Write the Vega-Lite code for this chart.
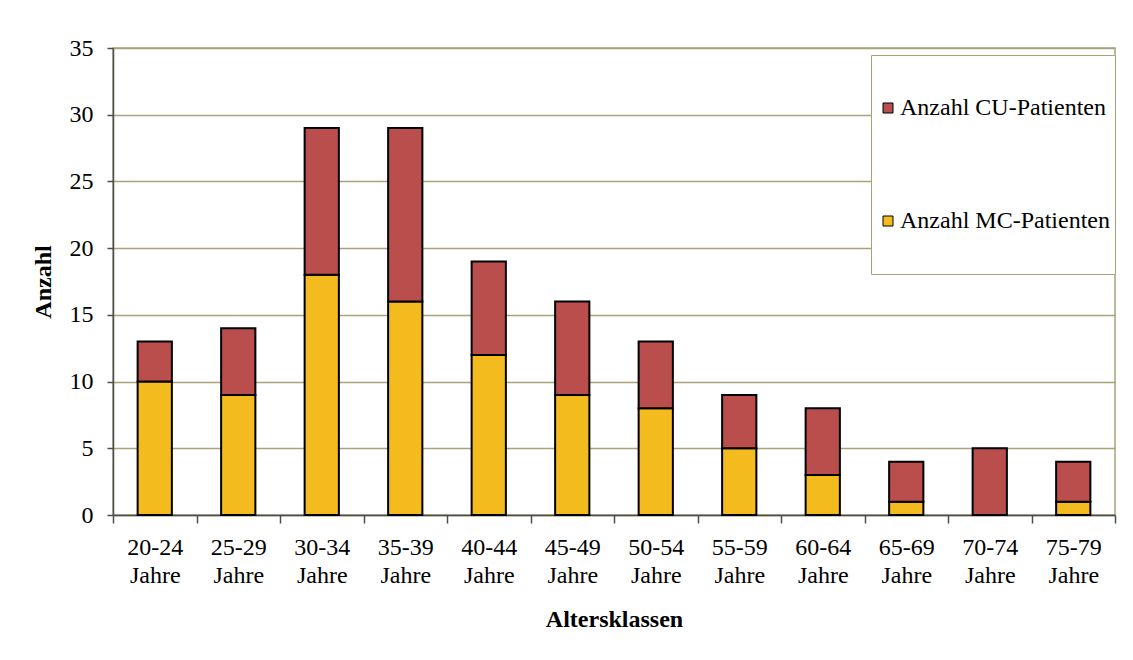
{
  "$schema": "https://vega.github.io/schema/vega-lite/v6.json",
  "width": 1002,
  "height": 467,
  "autosize": "none",
  "padding": {"left": 113, "top": 48, "right": 18, "bottom": 145},
  "background": "white",
  "data": {
    "values": [
      {"gruppe": "20-24 Jahre", "serie": "Anzahl MC-Patienten", "anzahl": 10},
      {"gruppe": "20-24 Jahre", "serie": "Anzahl CU-Patienten", "anzahl": 3},
      {"gruppe": "25-29 Jahre", "serie": "Anzahl MC-Patienten", "anzahl": 9},
      {"gruppe": "25-29 Jahre", "serie": "Anzahl CU-Patienten", "anzahl": 5},
      {"gruppe": "30-34 Jahre", "serie": "Anzahl MC-Patienten", "anzahl": 18},
      {"gruppe": "30-34 Jahre", "serie": "Anzahl CU-Patienten", "anzahl": 11},
      {"gruppe": "35-39 Jahre", "serie": "Anzahl MC-Patienten", "anzahl": 16},
      {"gruppe": "35-39 Jahre", "serie": "Anzahl CU-Patienten", "anzahl": 13},
      {"gruppe": "40-44 Jahre", "serie": "Anzahl MC-Patienten", "anzahl": 12},
      {"gruppe": "40-44 Jahre", "serie": "Anzahl CU-Patienten", "anzahl": 7},
      {"gruppe": "45-49 Jahre", "serie": "Anzahl MC-Patienten", "anzahl": 9},
      {"gruppe": "45-49 Jahre", "serie": "Anzahl CU-Patienten", "anzahl": 7},
      {"gruppe": "50-54 Jahre", "serie": "Anzahl MC-Patienten", "anzahl": 8},
      {"gruppe": "50-54 Jahre", "serie": "Anzahl CU-Patienten", "anzahl": 5},
      {"gruppe": "55-59 Jahre", "serie": "Anzahl MC-Patienten", "anzahl": 5},
      {"gruppe": "55-59 Jahre", "serie": "Anzahl CU-Patienten", "anzahl": 4},
      {"gruppe": "60-64 Jahre", "serie": "Anzahl MC-Patienten", "anzahl": 3},
      {"gruppe": "60-64 Jahre", "serie": "Anzahl CU-Patienten", "anzahl": 5},
      {"gruppe": "65-69 Jahre", "serie": "Anzahl MC-Patienten", "anzahl": 1},
      {"gruppe": "65-69 Jahre", "serie": "Anzahl CU-Patienten", "anzahl": 3},
      {"gruppe": "70-74 Jahre", "serie": "Anzahl MC-Patienten", "anzahl": 0},
      {"gruppe": "70-74 Jahre", "serie": "Anzahl CU-Patienten", "anzahl": 5},
      {"gruppe": "75-79 Jahre", "serie": "Anzahl MC-Patienten", "anzahl": 1},
      {"gruppe": "75-79 Jahre", "serie": "Anzahl CU-Patienten", "anzahl": 3}
    ]
  },
  "mark": {"type": "bar", "stroke": "black", "strokeWidth": 2, "width": {"band": 0.41}},
  "encoding": {
    "x": {
      "field": "gruppe",
      "type": "nominal",
      "sort": null,
      "scale": {"paddingInner": 0, "paddingOuter": 0},
      "axis": {
        "title": "Altersklassen",
        "labelAngle": 0,
        "labelExpr": "split(datum.label, ' ')",
        "labelLineHeight": 28,
        "labelPadding": 12,
        "tickBand": "extent",
        "tickSize": 8,
        "grid": false,
        "titlePadding": 20
      }
    },
    "y": {
      "field": "anzahl",
      "type": "quantitative",
      "stack": "zero",
      "scale": {"domain": [0, 35], "nice": false},
      "axis": {
        "title": "Anzahl",
        "values": [0, 5, 10, 15, 20, 25, 30, 35],
        "tickSize": 6,
        "labelPadding": 14,
        "titlePadding": 14,
        "grid": true
      }
    },
    "color": {
      "field": "serie",
      "type": "nominal",
      "scale": {
        "domain": ["Anzahl CU-Patienten", "Anzahl MC-Patienten"],
        "range": ["#b94e4c", "#f4bb1f"]
      },
      "legend": {
        "title": null,
        "orient": "none",
        "legendX": 758,
        "legendY": 7,
        "padding": 5,
        "strokeColor": "#aba27a",
        "fillColor": "white",
        "clipHeight": 96,
        "rowPadding": 17,
        "symbolType": "square",
        "symbolSize": 100,
        "symbolStrokeColor": "black",
        "symbolStrokeWidth": 1,
        "symbolOpacity": 1,
        "labelFont": "Liberation Serif",
        "labelFontSize": 24,
        "labelColor": "black",
        "labelLimit": 400,
        "labelOffset": 0,
        "zindex": 1
      }
    },
    "order": {"field": "serie", "sort": "descending"}
  },
  "config": {
    "view": {"stroke": "#aba27a", "strokeWidth": 1.5},
    "axis": {
      "domainColor": "#4d4d4d",
      "domainWidth": 1.5,
      "tickColor": "#4d4d4d",
      "tickWidth": 1.5,
      "labelFont": "Liberation Serif",
      "labelFontSize": 24,
      "labelColor": "black",
      "titleFont": "Liberation Serif",
      "titleFontSize": 24,
      "titleFontWeight": "bold",
      "titleColor": "black",
      "gridColor": "#aba27a",
      "gridWidth": 1.5
    }
  }
}
